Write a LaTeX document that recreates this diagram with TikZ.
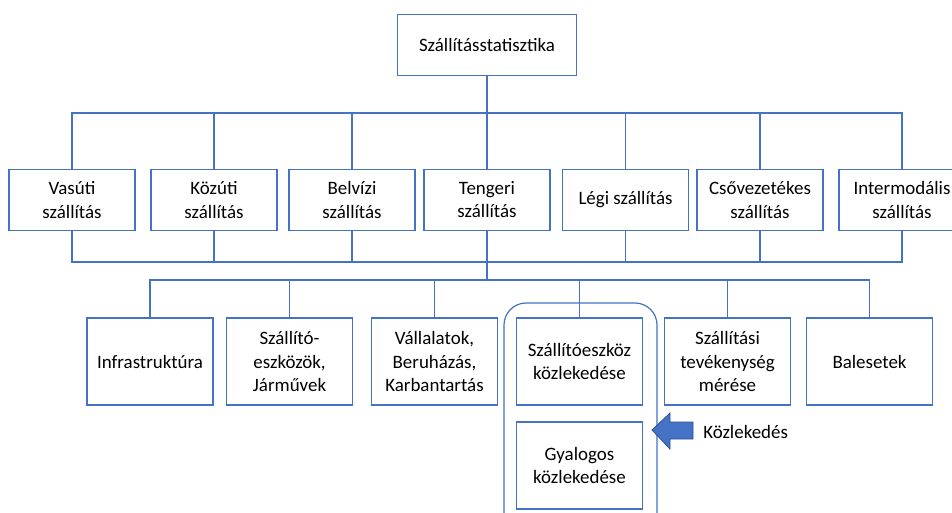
\documentclass[tikz,border=0pt]{standalone}
\usepackage{fontspec}
\setmainfont{Carlito}
\definecolor{ln}{HTML}{4472C4}
\definecolor{arrowedge}{HTML}{2F528F}
\begin{document}
\begin{tikzpicture}[x=0.75pt,y=-0.75pt,
  box/.style={draw=ln, line width=0.9pt, fill=white, inner sep=0pt, align=center,
     font=\fontsize{14.2}{17.3}\selectfont},
  conn/.style={draw=ln, line width=0.8pt}]
\path[use as bounding box, clip] (0,0) rectangle (952,513);
\fill[white] (0,0) rectangle (952,513);
% top
\node[box, minimum width=179*0.75pt, minimum height=61*0.75pt] (top) at (487,45) {Szállításstatisztika};
% row 1
\tikzset{r1/.style={box, minimum width=126*0.75pt, minimum height=61*0.75pt}}
\node[r1] (vas) at (72,200) {Vasúti\\szállítás};
\node[r1] (koz) at (214,200) {Közúti\\szállítás};
\node[r1] (bel) at (352,200) {Belvízi\\szállítás};
\node[r1] (ten) at (487,200) {Tengeri\\szállítás};
\node[r1] (leg) at (625.5,200) {Légi szállítás};
\node[r1] (cso) at (760,200) {Csővezetékes\\szállítás};
\node[r1] (int) at (902,200) {Intermodális\\szállítás};
% bus coordinates
\coordinate (b1) at (487,113);
\coordinate (b2) at (487,262);
\coordinate (b3) at (487,280);
\draw[conn] (top.south) -- (b1);
\draw[conn] (vas.north) |- (b1);
\draw[conn] (int.north) |- (b1);
\foreach \n in {koz,bel,ten,leg,cso} \draw[conn] (\n.north) -- (\n.north |- b1);
\draw[conn] (vas.south) |- (b2);
\draw[conn] (int.south) |- (b2);
\foreach \n in {koz,bel,leg,cso} \draw[conn] (\n.south) -- (\n.south |- b2);
\draw[conn] (ten.south) -- (b3);
% container
\draw[draw=ln, line width=0.9pt, rounded corners=22*0.75pt] (504,303) rectangle (657,540);
% row 2
\tikzset{r2/.style={box, minimum width=126*0.75pt, minimum height=87*0.75pt}}
\node[r2] (inf) at (150,361.5) {Infrastruktúra};
\node[r2] (jar) at (289.5,361.5) {Szállító-\\eszközök,\\Járművek};
\node[r2] (val) at (434.5,361.5) {Vállalatok,\\Beruházás,\\Karbantartás};
\node[r2] (sze) at (579.5,361.5) {Szállítóeszköz\\közlekedése};
\node[r2] (gya) at (579.5,465.5) {Gyalogos\\közlekedése};
\node[r2] (mer) at (727.5,361.5) {Szállítási\\tevékenység\\mérése};
\node[r2] (bal) at (869.5,361.5) {Balesetek};
\draw[conn] (inf.north) |- (b3);
\draw[conn] (bal.north) |- (b3);
\foreach \n in {jar,val,sze,mer} \draw[conn] (\n.north) -- (\n.north |- b3);
% arrow
\coordinate (tip) at (652,430);
\draw[fill=ln, draw=arrowedge, line width=0.6pt] (tip) -- (670,413) -- (670,422) -- (693,422) -- (693,439) -- (670,439) -- (670,449) -- cycle;
\node[font=\fontsize{14.2}{17.3}\selectfont, anchor=west, inner sep=0pt] (kozl) at (703,432) {Közlekedés};
\end{tikzpicture}
\end{document}
